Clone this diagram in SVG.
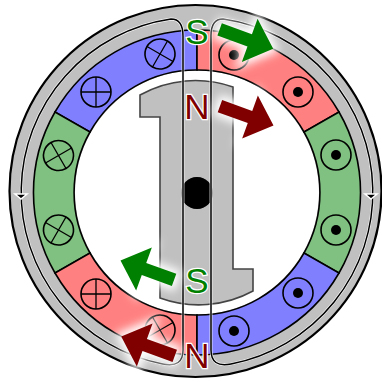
<svg xmlns="http://www.w3.org/2000/svg" width="382" height="382" viewBox="0 0 382 382">
<defs>
<filter id="glow" x="-60%" y="-60%" width="220%" height="220%"><feGaussianBlur stdDeviation="5"/></filter>
<clipPath id="shaft"><rect x="184" y="170" width="26" height="46"/></clipPath>
<path id="arr" d="M-32,-6.500 L0,-6.500 L0,-23 L25,0 L0,23 L0,6.500 L-32,6.500 Z"/>
<g id="cr"><circle r="15" fill="none" stroke="#000" stroke-width="1.6"/><path d="M-15,0H15M0,-15V15" stroke="#000" stroke-width="1.3"/></g>
<g id="dt"><circle r="15" fill="none" stroke="#000" stroke-width="1.6"/><circle r="5" fill="#000"/></g>
</defs>
<style>
.wb{fill:none;stroke:#000;stroke-width:1.5}
.wf{fill:none;stroke:#fff;stroke-width:2.8;stroke-opacity:.85}
text{font-family:"Liberation Sans",sans-serif;font-size:35px;text-anchor:middle;paint-order:stroke;stroke:#fff;stroke-width:2.5px}
.seg{stroke:#000;stroke-width:1.6}
.halo{fill:#fff;stroke:#fff;stroke-width:9}
</style>
<rect width="382" height="382" fill="#fff"/>
<g id="stator"><circle cx="195.500" cy="191" r="186" fill="#c0c0c0" stroke="#000" stroke-width="2.2"/><circle cx="197" cy="192.500" r="122" fill="#fff"/></g>
<g id="coils">
<path class="seg" fill="#8080ff" d="M197,30A164,162.500 0 0 0 55,112L90,132A122,122.500 0 0 1 197,70Z"/>
<path class="seg" fill="#ff8080" d="M197,30A164,162.500 0 0 1 339,112L304,132A122,122.500 0 0 0 197,70Z"/>
<path class="seg" fill="#80c080" d="M55,112A164,162.500 0 0 0 55,273L90,253A122,122.500 0 0 1 90,132Z"/>
<path class="seg" fill="#80c080" d="M339,112A164,162.500 0 0 1 339,273L304,253A122,122.500 0 0 0 304,132Z"/>
<path class="seg" fill="#ff8080" d="M55,273A164,162.500 0 0 0 197,355L197,315A122,122.500 0 0 1 90,253Z"/>
<path class="seg" fill="#8080ff" d="M339,273A164,162.500 0 0 1 197,355L197,315A122,122.500 0 0 0 304,253Z"/>
<use href="#cr" transform="translate(160,54) rotate(30)"/>
<use href="#cr" transform="translate(96,92)"/>
<use href="#cr" transform="translate(58.500,155.500) rotate(-30)"/>
<use href="#cr" transform="translate(58.500,230) rotate(30)"/>
<use href="#cr" transform="translate(96,294)"/>
<use href="#cr" transform="translate(160,330) rotate(-30)"/>
<use href="#dt" x="234" y="55"/><use href="#dt" x="298" y="92"/><use href="#dt" x="336" y="155"/><use href="#dt" x="336" y="230"/><use href="#dt" x="298" y="293"/><use href="#dt" x="234" y="331"/>
</g>
<g id="rotor"><path fill="#c0c0c0" stroke="#444" stroke-width="1.6" d="M140,95A113,113 0 0 1 233,87V269H253V291A113,113 0 0 1 160,298V117H140Z"/>
<circle cx="197" cy="193" r="16" fill="#777"/><circle cx="197" cy="193" r="16" fill="#000" clip-path="url(#shaft)"/></g>
<g id="connectors">
<path class="wf" d="M183,36Q183,19 171,19A175,175 0 0 0 163,364Q183,368 183,350Z"/>
<path class="wf" d="M211,36Q211,19 223,19A175,175 0 0 1 231,364Q211,368 211,350Z"/>
<path class="wb" d="M183,36Q183,19 171,19A175,175 0 0 0 163,364Q183,368 183,350Z"/>
<path class="wb" d="M211,36Q211,19 223,19A175,175 0 0 1 231,364Q211,368 211,350Z"/>
<path d="M15,194H27L21,199Z" fill="#000" stroke="#fff" stroke-width="1.500"/>
<path d="M365,194H377L371,199Z" fill="#000" stroke="#fff" stroke-width="1.500"/>
</g>
<g id="arrows">
<g transform="translate(249.700,40.300) rotate(20)"><use href="#arr" class="halo" filter="url(#glow)"/><use href="#arr" fill="#008000"/></g>
<g transform="translate(250,117) rotate(20)"><use href="#arr" class="halo" filter="url(#glow)"/><use href="#arr" fill="#800000"/></g>
<g transform="translate(144,269) rotate(200)"><use href="#arr" class="halo" filter="url(#glow)"/><use href="#arr" fill="#008000"/></g>
<g transform="translate(144.700,345) rotate(200)"><use href="#arr" class="halo" filter="url(#glow)"/><use href="#arr" fill="#800000"/></g>
</g>
<g id="labels">
<text x="197" y="43.500" fill="#008000">S</text>
<text x="197" y="118.500" fill="#800000">N</text>
<text x="197" y="292.500" fill="#008000">S</text>
<text x="197" y="368" fill="#800000">N</text>
</g>
</svg>
